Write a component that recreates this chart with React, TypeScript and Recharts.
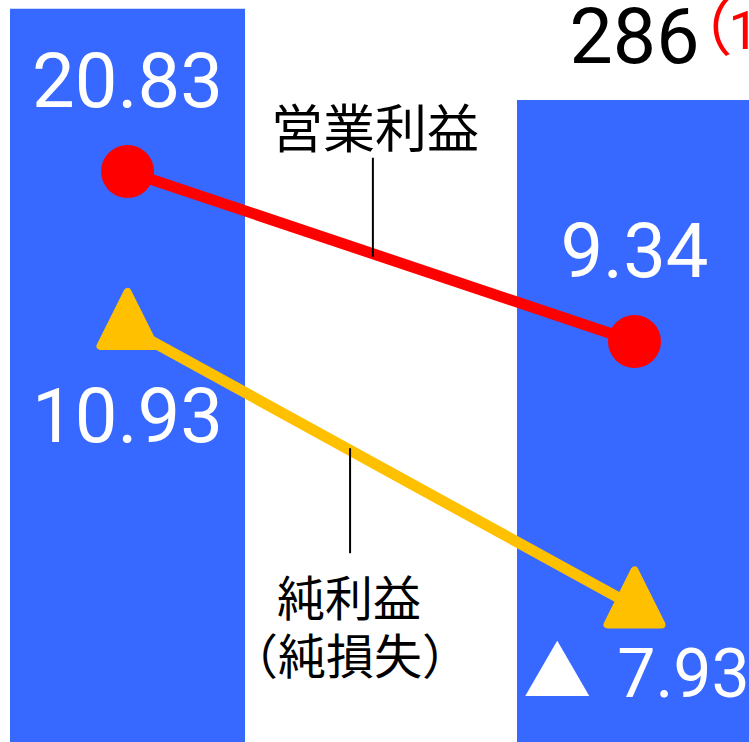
import React from 'react';
import { ComposedChart, Bar, Line, XAxis, YAxis, LabelList } from 'recharts';

// 期間
const periods = ['前期', '当期'];
// 売上高（左は画面外で数値が見えないため推定）
const sales = [315, 286];
// 売上高の前期比（右端で切れている）
const salesNote = ['', '（1'];
// 営業利益
const operatingProfit = [20.83, 9.34];
// 純利益（純損失）
const netProfit = [10.93, -7.93];

const data = periods.map((p, i) => ({
  period: p,
  sales: sales[i],
  op: operatingProfit[i],
  net: netProfit[i],
}));

const BLUE = '#3768FF';
const RED = '#FF0000';
const YELLOW = '#FFC000';
const NUM_FONT = 'Roboto, "Liberation Sans", sans-serif';
const JP_FONT = '"Noto Sans CJK JP", "Noto Sans", sans-serif';

// 値の表示（マイナスは▲）
const formatValue = (v: number) => (v < 0 ? Math.abs(v).toFixed(2) : v.toFixed(2));

// 売上高ラベル
const renderSalesLabel = (props: any) => {
  const { x, y, width, value, index } = props;
  const cx = Number(x) + Number(width) / 2;
  const top = Number(y);
  return (
    <g key={`sales-label-${index}`}>
      <text x={cx} y={top - 37} textAnchor="middle" fontSize={77} fontFamily={NUM_FONT} fill="#000">
        {value}
      </text>
      {salesNote[index] && (
        <text x={cx + 36} y={top - 49} fill={RED}>
          <tspan fontSize={62} fontFamily={JP_FONT}>{salesNote[index].slice(0, 1)}</tspan>
          <tspan fontSize={54} fontFamily={NUM_FONT} dx={-4} dy={-2}>{salesNote[index].slice(1)}</tspan>
        </text>
      )}
    </g>
  );
};

// 営業利益：赤丸＋引き出し線
const renderCircle = (props: any) => {
  const { cx, cy, index, points } = props;
  let note = null;
  if (index === 0 && points && points.length > 1) {
    const t = 0.484;
    const lx = points[0].x + (points[1].x - points[0].x) * t;
    const ly = points[0].y + (points[1].y - points[0].y) * t;
    note = (
      <g>
        <line x1={lx} y1={ly + 3} x2={lx} y2={ly - 96} stroke="#000" strokeWidth={2} />
        <text x={lx + 2} y={ly - 128} textAnchor="middle" dominantBaseline="central" fontSize={52} fontFamily={JP_FONT} fill="#000">
          営業利益
        </text>
      </g>
    );
  }
  return (
    <g key={`op-dot-${index}`}>
      <circle cx={cx} cy={cy} r={26.5} fill={RED} />
      {note}
    </g>
  );
};

// 純利益：黄色三角＋引き出し線
const renderTriangle = (props: any) => {
  const { cx, cy, index, points } = props;
  const H = 54;
  const B = 54;
  const pts = `${cx},${cy - (H * 2) / 3} ${cx - B / 2},${cy + H / 3} ${cx + B / 2},${cy + H / 3}`;
  let note = null;
  if (index === 0 && points && points.length > 1) {
    const t = 0.439;
    const lx = points[0].x + (points[1].x - points[0].x) * t;
    const ly = points[0].y + (points[1].y - points[0].y) * t;
    note = (
      <g>
        <line x1={lx} y1={ly - 2} x2={lx} y2={ly + 103} stroke="#000" strokeWidth={2} />
        <text x={lx - 1} y={ly + 145} textAnchor="middle" dominantBaseline="central" fontSize={48} fontFamily={JP_FONT} fill="#000">
          純利益
        </text>
        <text x={lx} y={ly + 203} textAnchor="middle" dominantBaseline="central" fontSize={48} fontFamily={JP_FONT} fill="#000">
          （純損失）
        </text>
      </g>
    );
  }
  return (
    <g key={`net-dot-${index}`}>
      <polygon points={pts} fill={YELLOW} stroke={YELLOW} strokeWidth={8} strokeLinejoin="round" />
      {note}
    </g>
  );
};

const renderOpLabel = (props: any) => {
  const { x, y, value, index } = props;
  return (
    <text key={`op-label-${index}`} x={x} y={Number(y) - 64} textAnchor="middle" fontSize={76} fontFamily={NUM_FONT} fill="#fff">
      {formatValue(Number(value))}
    </text>
  );
};

const renderNetLabel = (props: any) => {
  const { x, y, value, index } = props;
  const v = Number(value);
  if (v < 0) {
    return (
      <text key={`net-label-${index}`} x={Number(x) + 2} y={Number(y) + 90.5} textAnchor="middle" fill="#fff">
        <tspan fontSize={68} fontFamily={JP_FONT}>▲</tspan>
        <tspan fontSize={68} fontFamily={NUM_FONT} dx={26}>{formatValue(v)}</tspan>
      </text>
    );
  }
  return (
    <text key={`net-label-${index}`} x={x} y={Number(y) + 114} textAnchor="middle" fontSize={76} fontFamily={NUM_FONT} fill="#fff">
      {formatValue(v)}
    </text>
  );
};

const App: React.FC = () => {
  return (
    <div style={{ position: 'absolute', left: 0, top: 0, width: 749, height: 742, overflow: 'hidden', background: '#fff' }}>
      <div style={{ position: 'absolute', left: -126, top: 0 }}>
        <ComposedChart width={1014} height={1000} data={data} margin={{ top: 0, right: 0, bottom: 0, left: 0 }}>
          <XAxis dataKey="period" hide />
          <YAxis yAxisId="sales" hide type="number" domain={[0, 317.8]} allowDataOverflow />
          <YAxis yAxisId="op" hide type="number" domain={[-35.17, 32.42]} allowDataOverflow />
          <YAxis yAxisId="net" hide type="number" domain={[-34.58, 33.14]} allowDataOverflow />
          <Bar yAxisId="sales" dataKey="sales" fill={BLUE} barSize={235} isAnimationActive={false}>
            <LabelList dataKey="sales" content={renderSalesLabel} />
          </Bar>
          <Line
            yAxisId="op"
            dataKey="op"
            stroke={RED}
            strokeWidth={11}
            dot={renderCircle}
            activeDot={false}
            isAnimationActive={false}
          >
            <LabelList dataKey="op" content={renderOpLabel} />
          </Line>
          <Line
            yAxisId="net"
            dataKey="net"
            stroke={YELLOW}
            strokeWidth={11}
            dot={renderTriangle}
            activeDot={false}
            isAnimationActive={false}
          >
            <LabelList dataKey="net" content={renderNetLabel} />
          </Line>
        </ComposedChart>
      </div>
    </div>
  );
};

export default App;
